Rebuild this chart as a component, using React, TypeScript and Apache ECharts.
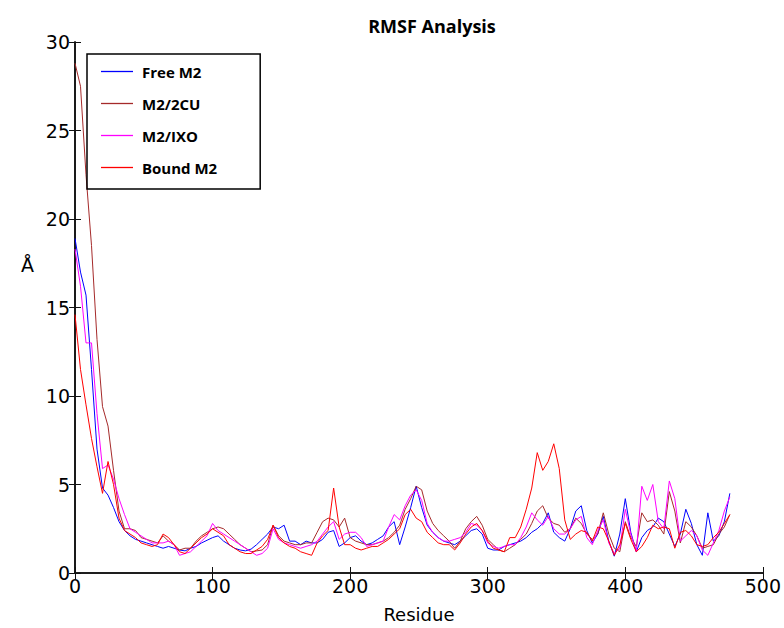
import React, { useEffect, useRef } from "react";
import * as echarts from "echarts";

// Residue grid (every 4 residues)
const residues: number[] = [
  0, 4, 8, 12, 16, 20, 24, 28, 32, 36, 40, 44, 48, 52, 56, 60, 64, 68, 72, 76,
  80, 84, 88, 92, 96, 100, 104, 108, 112, 116, 120, 124, 128, 132, 136, 140, 144, 148, 152, 156,
  160, 164, 168, 172, 176, 180, 184, 188, 192, 196, 200, 204, 208, 212, 216, 220, 224, 228, 232, 236,
  240, 244, 248, 252, 256, 260, 264, 268, 272, 276, 280, 284, 288, 292, 296, 300, 304, 308, 312, 316,
  320, 324, 328, 332, 336, 340, 344, 348, 352, 356, 360, 364, 368, 372, 376, 380, 384, 388, 392, 396,
  400, 404, 408, 412, 416, 420, 424, 428, 432, 436, 440, 444, 448, 452, 456, 460, 464, 468, 472, 476,
];

const freeM2: number[] = [
  18.9, 17.0, 15.7, 11.5, 7.0, 4.8, 4.4, 3.7, 2.9, 2.4, 2.1, 1.9, 1.8, 1.7, 1.6, 1.5, 1.4, 1.5, 1.4, 1.3,
  1.25, 1.4, 1.5, 1.7, 1.85, 2.0, 2.1, 1.8, 1.6, 1.4, 1.3, 1.25, 1.35, 1.6, 1.9, 2.2, 2.6, 2.5, 2.7, 1.8,
  1.8, 1.6, 1.8, 1.7, 1.7, 1.9, 2.3, 2.4, 1.5, 1.7, 2.0, 2.1, 1.8, 1.6, 1.7, 1.9, 2.1, 2.6, 2.9, 1.6,
  2.6, 3.7, 4.9, 3.7, 2.7, 2.3, 2.0, 1.8, 1.7, 1.6, 1.8, 2.1, 2.4, 2.5, 2.2, 1.4, 1.3, 1.3, 1.5, 1.6,
  1.7, 1.8, 2.0, 2.3, 2.5, 2.8, 3.4, 2.3, 2.0, 1.8, 2.5, 3.5, 3.8, 2.4, 1.7, 2.2, 3.2, 1.8, 0.95, 2.2,
  4.2, 2.3, 1.2, 2.0, 2.4, 2.6, 3.1, 2.9, 2.2, 1.5, 2.2, 3.6, 2.8, 1.6, 1.0, 3.4, 1.8, 2.1, 2.9, 4.5,
];

const m2_2cu: number[] = [
  28.8, 27.5, 22.5, 18.5, 13.2, 9.4, 8.3, 5.8, 3.5, 2.5, 2.5, 2.4, 2.0, 1.9, 1.8, 1.7, 2.1, 1.8, 1.6, 1.3,
  1.4, 1.4, 1.8, 2.1, 2.3, 2.5, 2.6, 2.5, 2.2, 1.9, 1.6, 1.4, 1.2, 1.25, 1.3, 1.6, 2.7, 2.1, 1.8, 1.7,
  1.6, 1.6, 1.7, 1.7, 2.3, 2.9, 3.1, 3.0, 2.6, 3.1, 2.0, 1.8, 1.7, 1.6, 1.6, 1.7, 1.8, 2.0, 2.3, 2.7,
  3.6, 4.2, 4.9, 4.7, 3.5, 2.8, 2.4, 2.1, 1.8, 1.4, 1.8, 2.5, 2.9, 3.2, 2.7, 1.9, 1.6, 1.3, 1.2, 1.4,
  1.6, 1.9, 2.2, 2.8, 3.5, 3.8, 3.1, 2.8, 2.7, 2.3, 2.5, 3.1, 2.8, 2.2, 1.9, 2.2, 3.4, 2.2, 1.4, 1.2,
  2.9, 2.0, 1.5, 3.4, 2.9, 3.0, 2.7, 2.2, 4.6, 3.5, 1.7, 2.9, 2.6, 2.1, 1.4, 1.5, 1.6, 2.2, 2.6, 3.3,
];

const m2_ixo: number[] = [
  18.3, 16.2, 13.0, 13.0, 9.0, 5.9, 6.1, 5.3, 4.2, 3.3, 2.5, 2.3, 2.1, 1.9, 1.7, 1.7, 1.7, 1.8, 1.6, 1.0,
  1.1, 1.2, 1.5, 1.8, 2.1, 2.8, 2.4, 2.2, 2.0, 1.8, 1.6, 1.4, 1.2, 1.0, 1.1, 1.4, 2.5, 1.9, 1.7, 1.6,
  1.5, 1.4, 1.5, 1.6, 1.8, 2.2, 2.6, 2.9, 1.9, 2.2, 2.3, 2.3, 2.0, 1.5, 1.6, 1.7, 1.8, 2.6, 3.3, 3.0,
  3.8, 4.4, 4.7, 4.1, 2.8, 2.3, 2.0, 1.8, 1.8, 1.9, 2.0, 2.3, 2.8, 2.7, 2.4, 1.7, 1.5, 1.4, 1.5, 1.6,
  1.6, 2.0, 2.6, 3.4, 3.0, 2.7, 3.2, 2.5, 2.2, 2.2, 2.5, 3.0, 3.2, 2.0, 1.6, 2.4, 3.0, 1.7, 1.1, 1.4,
  3.6, 2.2, 1.2, 4.9, 4.1, 5.0, 2.9, 2.5, 5.2, 4.2, 1.8, 2.1, 2.4, 2.1, 1.3, 1.0, 1.7, 2.4, 3.5, 4.3,
];

const boundM2: number[] = [
  14.6, 11.5, 9.5, 7.6, 6.0, 4.5, 6.3, 5.0, 3.1, 2.4, 2.2, 2.0, 1.7, 1.6, 1.5, 1.6, 2.2, 2.0, 1.6, 1.2,
  1.1, 1.4, 1.7, 2.0, 2.2, 2.5, 2.3, 2.1, 1.6, 1.4, 1.2, 1.1, 1.1, 1.3, 1.5, 1.9, 2.7, 2.0, 1.7, 1.5,
  1.4, 1.2, 1.1, 1.0, 1.7, 2.1, 2.4, 4.8, 2.6, 1.6, 1.6, 1.4, 1.3, 1.4, 1.5, 1.5, 1.7, 1.9, 2.2, 2.5,
  3.3, 3.6, 3.1, 2.9, 2.3, 2.0, 1.7, 1.6, 1.6, 1.3, 1.7, 2.2, 2.6, 2.8, 2.4, 1.8, 1.4, 1.3, 1.2, 2.0,
  2.0, 2.6, 3.6, 4.8, 6.8, 5.8, 6.3, 7.3, 5.9, 3.0, 1.9, 2.2, 2.4, 2.3, 1.8, 2.6, 2.5, 1.8, 1.0, 1.6,
  2.8, 1.9, 1.2, 1.5, 2.0, 2.7, 2.5, 2.6, 2.5, 1.4, 2.3, 2.4, 2.1, 1.6, 1.5, 1.6, 2.0, 2.3, 2.8, 3.3,
];

const seriesNames = ["Free M2", "M2/2CU", "M2/IXO", "Bound M2"];
const seriesValues = [freeM2, m2_2cu, m2_ixo, boundM2];
const seriesColors = ["#0000ff", "#a52a2a", "#ff00ff", "#ff0000"];

const BOLD_FONT = "'Open Sans', 'DejaVu Sans', sans-serif";
const AXIS_FONT = "'DejaVu Sans', sans-serif";

export default function App() {
  const ref = useRef<HTMLDivElement>(null);

  useEffect(() => {
    if (!ref.current) return;
    const chart = echarts.init(ref.current, null, { renderer: "svg" });
    const frame = { lineStyle: { color: "#111", width: 1.6 } };
    const tick = { show: true, inside: true, length: 6, lineStyle: { color: "#111", width: 1 } };
    chart.setOption({
      animation: false,
      backgroundColor: "#fff",
      title: {
        text: "RMSF Analysis",
        left: 427,
        top: 12,
        textAlign: "center",
        textStyle: { fontFamily: BOLD_FONT, fontWeight: "bold", fontSize: 18, color: "#000" },
      },
      grid: { left: 75, right: 20, top: 42, bottom: 53 },
      legend: {
        orient: "vertical",
        left: 87,
        top: 54,
        icon: "rect",
        itemWidth: 32,
        itemHeight: 1.3,
        itemGap: 17,
        padding: [10, 43, 14, 14],
        borderColor: "#000",
        borderWidth: 1.5,
        data: seriesNames,
        textStyle: {
          fontFamily: BOLD_FONT,
          fontWeight: "bold",
          fontSize: 15,
          lineHeight: 14,
          color: "#000",
          padding: [0, 0, 0, 4],
        },
      },
      xAxis: [
        {
          type: "value",
          min: 0,
          max: 500,
          interval: 100,
          position: "bottom",
          name: "Residue",
          nameLocation: "middle",
          nameGap: 32,
          nameTextStyle: { fontFamily: AXIS_FONT, fontSize: 18, color: "#000" },
          axisLine: { show: true, ...frame },
          axisTick: tick,
          axisLabel: { fontFamily: AXIS_FONT, fontSize: 19, color: "#000", margin: 3 },
          splitLine: { show: false },
        },
        {
          type: "value",
          min: 0,
          max: 500,
          interval: 100,
          position: "top",
          axisLine: { show: true, ...frame },
          axisTick: tick,
          axisLabel: { show: false },
          splitLine: { show: false },
        },
      ],
      yAxis: [
        {
          type: "value",
          min: 0,
          max: 30,
          interval: 5,
          position: "left",
          axisLine: { show: true, ...frame },
          axisTick: tick,
          axisLabel: { fontFamily: AXIS_FONT, fontSize: 19, color: "#000", margin: 5 },
          splitLine: { show: false },
        },
        {
          type: "value",
          min: 0,
          max: 30,
          interval: 5,
          position: "right",
          axisLine: { show: true, ...frame },
          axisTick: tick,
          axisLabel: { show: false },
          splitLine: { show: false },
        },
      ],
      graphic: [
        {
          type: "text",
          left: 21,
          top: 255,
          style: { text: "Å", fontFamily: AXIS_FONT, fontSize: 19, fill: "#000" },
        },
      ],
      series: seriesNames.map((name, k) => ({
        name,
        type: "line",
        xAxisIndex: 0,
        yAxisIndex: 0,
        symbol: "none",
        showSymbol: false,
        lineStyle: { color: seriesColors[k], width: 1 },
        itemStyle: { color: seriesColors[k] },
        data: residues.map((r, i) => [r, seriesValues[k][i]]),
      })),
    });
    return () => chart.dispose();
  }, []);

  return (
    <div
      ref={ref}
      style={{ position: "absolute", left: 0, top: 0, width: 784, height: 628 }}
    />
  );
}
